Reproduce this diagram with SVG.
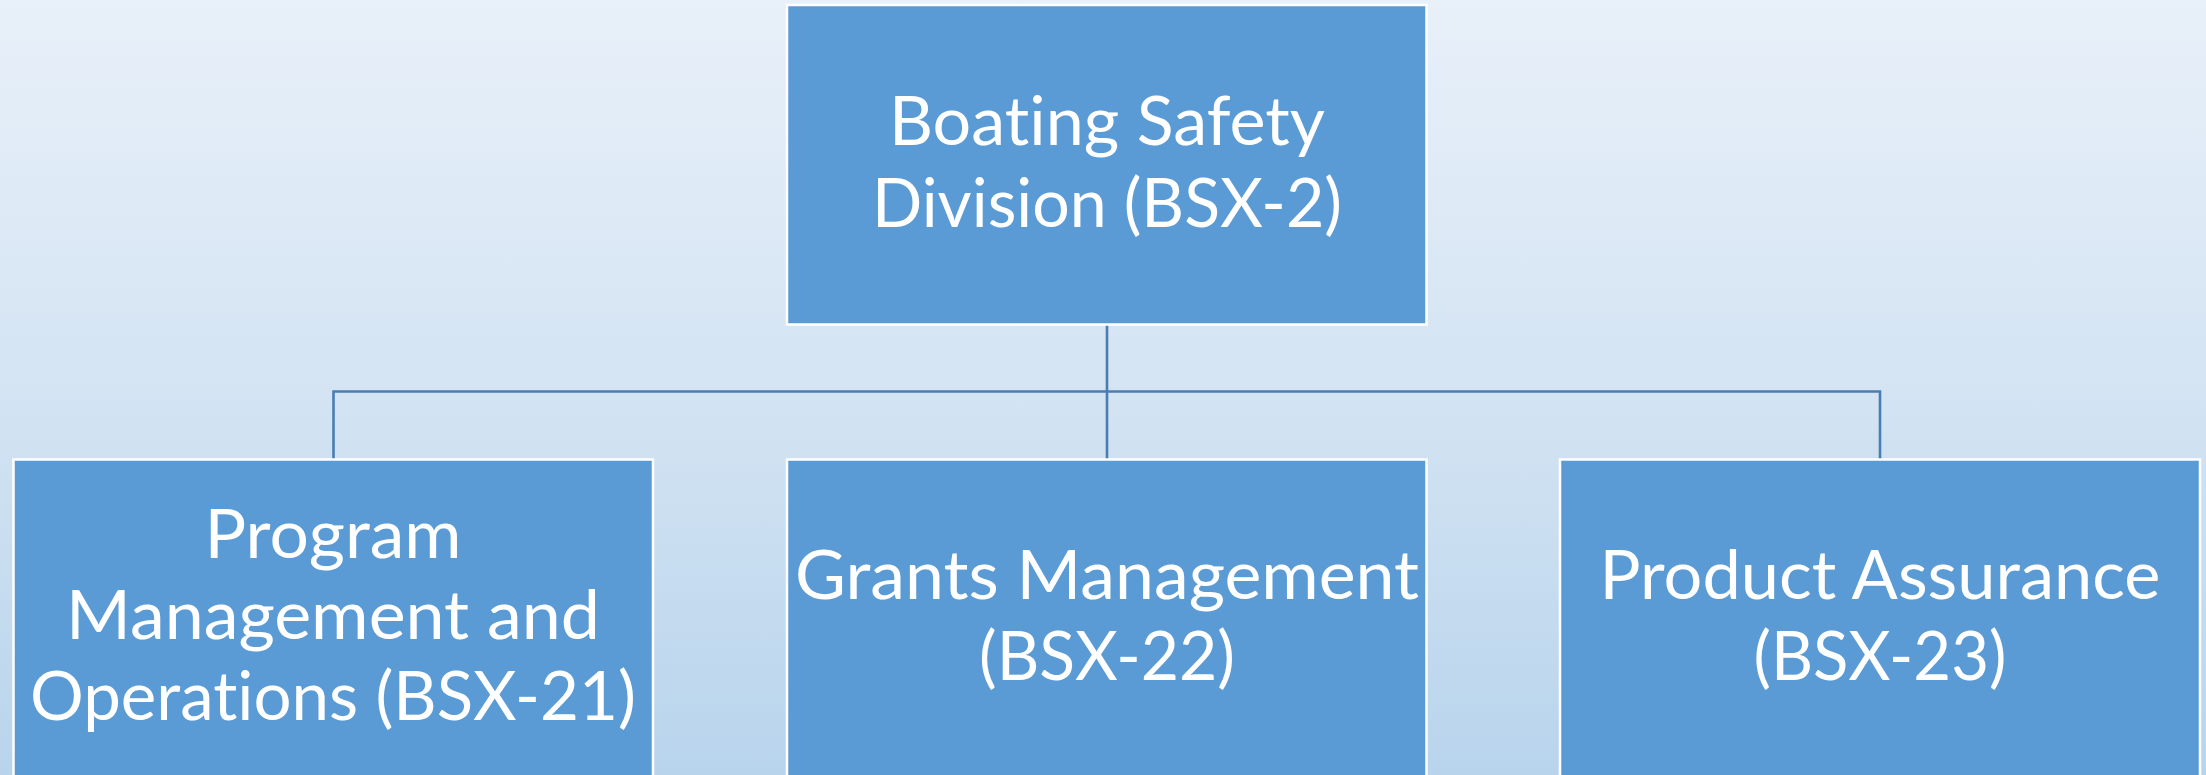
<svg xmlns="http://www.w3.org/2000/svg" width="2206" height="775" viewBox="0 0 2206 775">
  <defs>
    <linearGradient id="bg" x1="0" y1="0" x2="0" y2="1">
      <stop offset="0" stop-color="#e8f0f9"/>
      <stop offset="0.5" stop-color="#d4e4f3"/>
      <stop offset="1" stop-color="#b8d4ec"/>
    </linearGradient>
  </defs>
  <style>
    .box { fill: #5b9bd5; stroke: #ffffff; stroke-width: 2.5; }
    .lbl { fill: #ffffff; font-family: Lato, "Open Sans", "Liberation Sans", sans-serif; font-size: 67px; text-anchor: middle; font-variant-ligatures: none; font-feature-settings: "liga" 0, "clig" 0; }
    .conn { fill: none; stroke: #4a7eb3; stroke-width: 2.6; }
  </style>
  <rect x="0" y="0" width="2206" height="775" fill="url(#bg)"/>
  <g id="connectors">
    <path class="conn" d="M1107,325 V459"/>
    <path class="conn" d="M333.5,459 V391.5 H1880 V459"/>
  </g>
  <g id="node-bsx2">
    <rect class="box" x="787" y="5" width="639.5" height="319.5"/>
    <text class="lbl" x="1107" y="145" textLength="436" lengthAdjust="spacingAndGlyphs">Boating Safety</text>
    <text class="lbl" x="1107" y="227" textLength="470" lengthAdjust="spacingAndGlyphs">Division (BSX-2)</text>
  </g>
  <g id="node-bsx21">
    <rect class="box" x="13.5" y="459.5" width="639.5" height="330"/>
    <text class="lbl" x="333" y="558" textLength="257" lengthAdjust="spacingAndGlyphs">Program</text>
    <text class="lbl" x="333" y="639" textLength="534" lengthAdjust="spacingAndGlyphs">Management and</text>
    <text class="lbl" x="333" y="720" textLength="606" lengthAdjust="spacingAndGlyphs">Operations (BSX-21)</text>
  </g>
  <g id="node-bsx22">
    <rect class="box" x="787" y="459.5" width="639.5" height="330"/>
    <text class="lbl" x="1107" y="599" textLength="624" lengthAdjust="spacingAndGlyphs">Grants Management</text>
    <text class="lbl" x="1107" y="680" textLength="256" lengthAdjust="spacingAndGlyphs">(BSX-22)</text>
  </g>
  <g id="node-bsx23">
    <rect class="box" x="1560" y="459.5" width="640" height="330"/>
    <text class="lbl" x="1880" y="599" textLength="561" lengthAdjust="spacingAndGlyphs">Product Assurance</text>
    <text class="lbl" x="1880" y="680" textLength="253" lengthAdjust="spacingAndGlyphs">(BSX-23)</text>
  </g>
</svg>
